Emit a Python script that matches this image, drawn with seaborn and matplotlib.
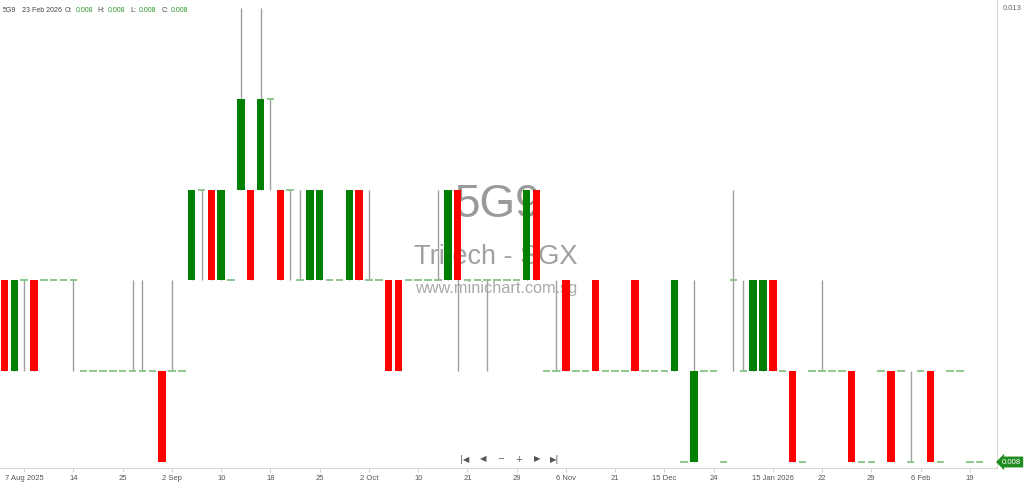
import numpy as np
import pandas as pd
import seaborn as sns
import matplotlib.pyplot as plt

# Daily OHLC for 5G9 (Tritech - SGX), one entry per trading day
opens = [
    0.010, 0.009, 0.010, 0.010, 0.010, 0.010, 0.010, 0.010, 0.009, 0.009,
    0.009, 0.009, 0.009, 0.009, 0.009, 0.009, 0.009, 0.009, 0.009, 0.010,
    0.011, 0.011, 0.010, 0.010, 0.011, 0.011, 0.011, 0.012, 0.011, 0.011,
    0.010, 0.010, 0.010, 0.010, 0.010, 0.010, 0.011, 0.010, 0.010, 0.010,
    0.010, 0.010, 0.010, 0.010, 0.010, 0.010, 0.011, 0.010, 0.010, 0.010,
    0.010, 0.010, 0.010, 0.010, 0.011, 0.009, 0.009, 0.010, 0.009, 0.009,
    0.010, 0.009, 0.009, 0.009, 0.010, 0.009, 0.009, 0.009, 0.009, 0.008,
    0.008, 0.009, 0.009, 0.008, 0.010, 0.009, 0.009, 0.009, 0.010, 0.009,
    0.009, 0.008, 0.009, 0.009, 0.009, 0.009, 0.009, 0.008, 0.008, 0.009,
    0.009, 0.009, 0.008, 0.009, 0.009, 0.008, 0.009, 0.009, 0.008, 0.008,
]
highs = [
    0.010, 0.010, 0.010, 0.010, 0.010, 0.010, 0.010, 0.010, 0.009, 0.009,
    0.009, 0.009, 0.009, 0.010, 0.010, 0.009, 0.009, 0.010, 0.009, 0.011,
    0.011, 0.011, 0.011, 0.010, 0.013, 0.011, 0.013, 0.012, 0.011, 0.011,
    0.011, 0.011, 0.011, 0.010, 0.010, 0.011, 0.011, 0.011, 0.010, 0.010,
    0.010, 0.010, 0.010, 0.010, 0.011, 0.011, 0.011, 0.010, 0.010, 0.010,
    0.010, 0.010, 0.010, 0.011, 0.011, 0.009, 0.010, 0.010, 0.009, 0.009,
    0.010, 0.009, 0.009, 0.009, 0.010, 0.009, 0.009, 0.009, 0.010, 0.008,
    0.010, 0.009, 0.009, 0.008, 0.011, 0.010, 0.010, 0.010, 0.010, 0.009,
    0.009, 0.008, 0.009, 0.010, 0.009, 0.009, 0.009, 0.008, 0.008, 0.009,
    0.009, 0.009, 0.009, 0.009, 0.009, 0.008, 0.009, 0.009, 0.008, 0.008,
]
lows = [
    0.009, 0.009, 0.009, 0.009, 0.010, 0.010, 0.010, 0.009, 0.009, 0.009,
    0.009, 0.009, 0.009, 0.009, 0.009, 0.009, 0.008, 0.009, 0.009, 0.010,
    0.010, 0.010, 0.010, 0.010, 0.011, 0.010, 0.011, 0.011, 0.010, 0.010,
    0.010, 0.010, 0.010, 0.010, 0.010, 0.010, 0.010, 0.010, 0.010, 0.009,
    0.009, 0.010, 0.010, 0.010, 0.010, 0.010, 0.009, 0.010, 0.010, 0.009,
    0.010, 0.010, 0.010, 0.010, 0.010, 0.009, 0.009, 0.009, 0.009, 0.009,
    0.009, 0.009, 0.009, 0.009, 0.009, 0.009, 0.009, 0.009, 0.009, 0.008,
    0.008, 0.009, 0.009, 0.008, 0.009, 0.009, 0.009, 0.009, 0.009, 0.009,
    0.008, 0.008, 0.009, 0.009, 0.009, 0.009, 0.008, 0.008, 0.008, 0.009,
    0.008, 0.009, 0.008, 0.009, 0.008, 0.008, 0.009, 0.009, 0.008, 0.008,
]
closes = [
    0.009, 0.010, 0.010, 0.009, 0.010, 0.010, 0.010, 0.010, 0.009, 0.009,
    0.009, 0.009, 0.009, 0.009, 0.009, 0.009, 0.008, 0.009, 0.009, 0.011,
    0.011, 0.010, 0.011, 0.010, 0.012, 0.010, 0.012, 0.012, 0.010, 0.011,
    0.010, 0.011, 0.011, 0.010, 0.010, 0.011, 0.010, 0.010, 0.010, 0.009,
    0.009, 0.010, 0.010, 0.010, 0.010, 0.011, 0.010, 0.010, 0.010, 0.010,
    0.010, 0.010, 0.010, 0.011, 0.010, 0.009, 0.009, 0.009, 0.009, 0.009,
    0.009, 0.009, 0.009, 0.009, 0.009, 0.009, 0.009, 0.009, 0.010, 0.008,
    0.009, 0.009, 0.009, 0.008, 0.010, 0.009, 0.010, 0.010, 0.009, 0.009,
    0.008, 0.008, 0.009, 0.009, 0.009, 0.009, 0.008, 0.008, 0.008, 0.009,
    0.008, 0.009, 0.008, 0.009, 0.008, 0.008, 0.009, 0.009, 0.008, 0.008,
]

# x-axis date labels (index of trading day -> label)
tick_pos = [2, 7, 12, 17, 22, 27, 32, 37, 42, 47, 52, 57, 62, 67, 72, 78, 83, 88, 93, 98]
tick_labels = ["7 Aug 2025", "14", "25", "2 Sep", "10", "18", "25", "2 Oct", "10", "21",
               "29", "6 Nov", "21", "15 Dec", "24", "15 Jan 2026", "22", "29", "6 Feb", "19"]

df = pd.DataFrame({"open": opens, "high": highs, "low": lows, "close": closes})
df["idx"] = np.arange(len(df))
df["bottom"] = df[["open", "close"]].min(axis=1)
df["height"] = (df["close"] - df["open"]).abs()

up = df[df["close"] > df["open"]]
down = df[df["close"] < df["open"]]
flat = df[df["close"] == df["open"]]

sns.set_theme(style="white")
plt.rcParams["font.family"] = ["Liberation Sans", "DejaVu Sans"]

W, H = 1024, 484
fig = plt.figure(figsize=(W / 100, H / 100), dpi=100)
ax = fig.add_axes([0, 16 / H, 997 / W, 468 / H])

bw = 0.76
# wicks
ax.vlines(df["idx"], df["low"], df["high"], color="#a0a0a0", linewidth=1.0, zorder=2)
# bodies
ax.bar(up["idx"], up["height"], bottom=up["bottom"], width=bw, color="#008000", linewidth=0, zorder=3)
ax.bar(down["idx"], down["height"], bottom=down["bottom"], width=bw, color="#ff0000", linewidth=0, zorder=3)
# unchanged days
ax.hlines(flat["open"], flat["idx"] - bw / 2, flat["idx"] + bw / 2, color="#86c386", linewidth=1.3, zorder=3)

ax.set_xlim(-0.457, 100.76)
ax.set_ylim(0.007934, 0.013088)

ax.set_xticks(tick_pos)
ax.set_xticklabels(tick_labels, fontsize=5.5, color="#555555")
ax.tick_params(axis="x", length=3, width=0.6, color="#cccccc", pad=2, bottom=True)

ax.yaxis.tick_right()
ax.set_yticks([0.013])
ax.set_yticklabels(["0.013"], fontsize=5.5, color="#666666")
ax.tick_params(axis="y", length=3, width=0.6, color="#cccccc", pad=1, right=True)

sns.despine(ax=ax, left=True, top=True, right=False, bottom=False)
for s in ["right", "bottom"]:
    ax.spines[s].set_color("#d9d9d9")
    ax.spines[s].set_linewidth(0.8)

# last price tag
ax.text(1.005, 0.008, "0.008", transform=ax.get_yaxis_transform(), fontsize=5.6, color="white",
        va="center", ha="left", clip_on=False,
        bbox=dict(boxstyle="larrow,pad=0.25", fc="#1e8c1e", ec="none"))

# watermark (behind the candles)
def px(x, y):
    return x / W, 1 - y / H

ax.text(*px(497, 205), "5G9", transform=fig.transFigure, fontsize=33, color="#9a9a9a",
        ha="center", va="center", zorder=1)
ax.text(*px(496, 257), "Tritech - SGX", transform=fig.transFigure, fontsize=19.5, color="#a0a0a0",
        ha="center", va="center", zorder=1)
ax.text(*px(496, 289), "www.minichart.com.sg", transform=fig.transFigure, fontsize=11.7, color="#aaaaaa",
        ha="center", va="center", zorder=1)

# header
hdr = [(3, "5G9", "#444444"), (22, "23 Feb 2026", "#444444"),
       (65, "O:", "#444444"), (76, "0.008", "#2e9a2e"),
       (97, "H:", "#444444"), (108, "0.008", "#2e9a2e"),
       (130, "L:", "#444444"), (139, "0.008", "#2e9a2e"),
       (162, "C:", "#444444"), (171, "0.008", "#2e9a2e")]
for x, s, c in hdr:
    fig.text(*px(x, 10), s, fontsize=5.0, color=c, ha="left", va="center")

# navigation buttons
nav = [(465, "|◀"), (483, "◀"), (501, "−"), (519, "+"), (537, "▶"), (555, "▶|")]
for x, s in nav:
    fig.text(*px(x, 459), s, fontsize=6, color="#555555", ha="center", va="center",
             family="DejaVu Sans")

fig.savefig("out.png", dpi=100)
